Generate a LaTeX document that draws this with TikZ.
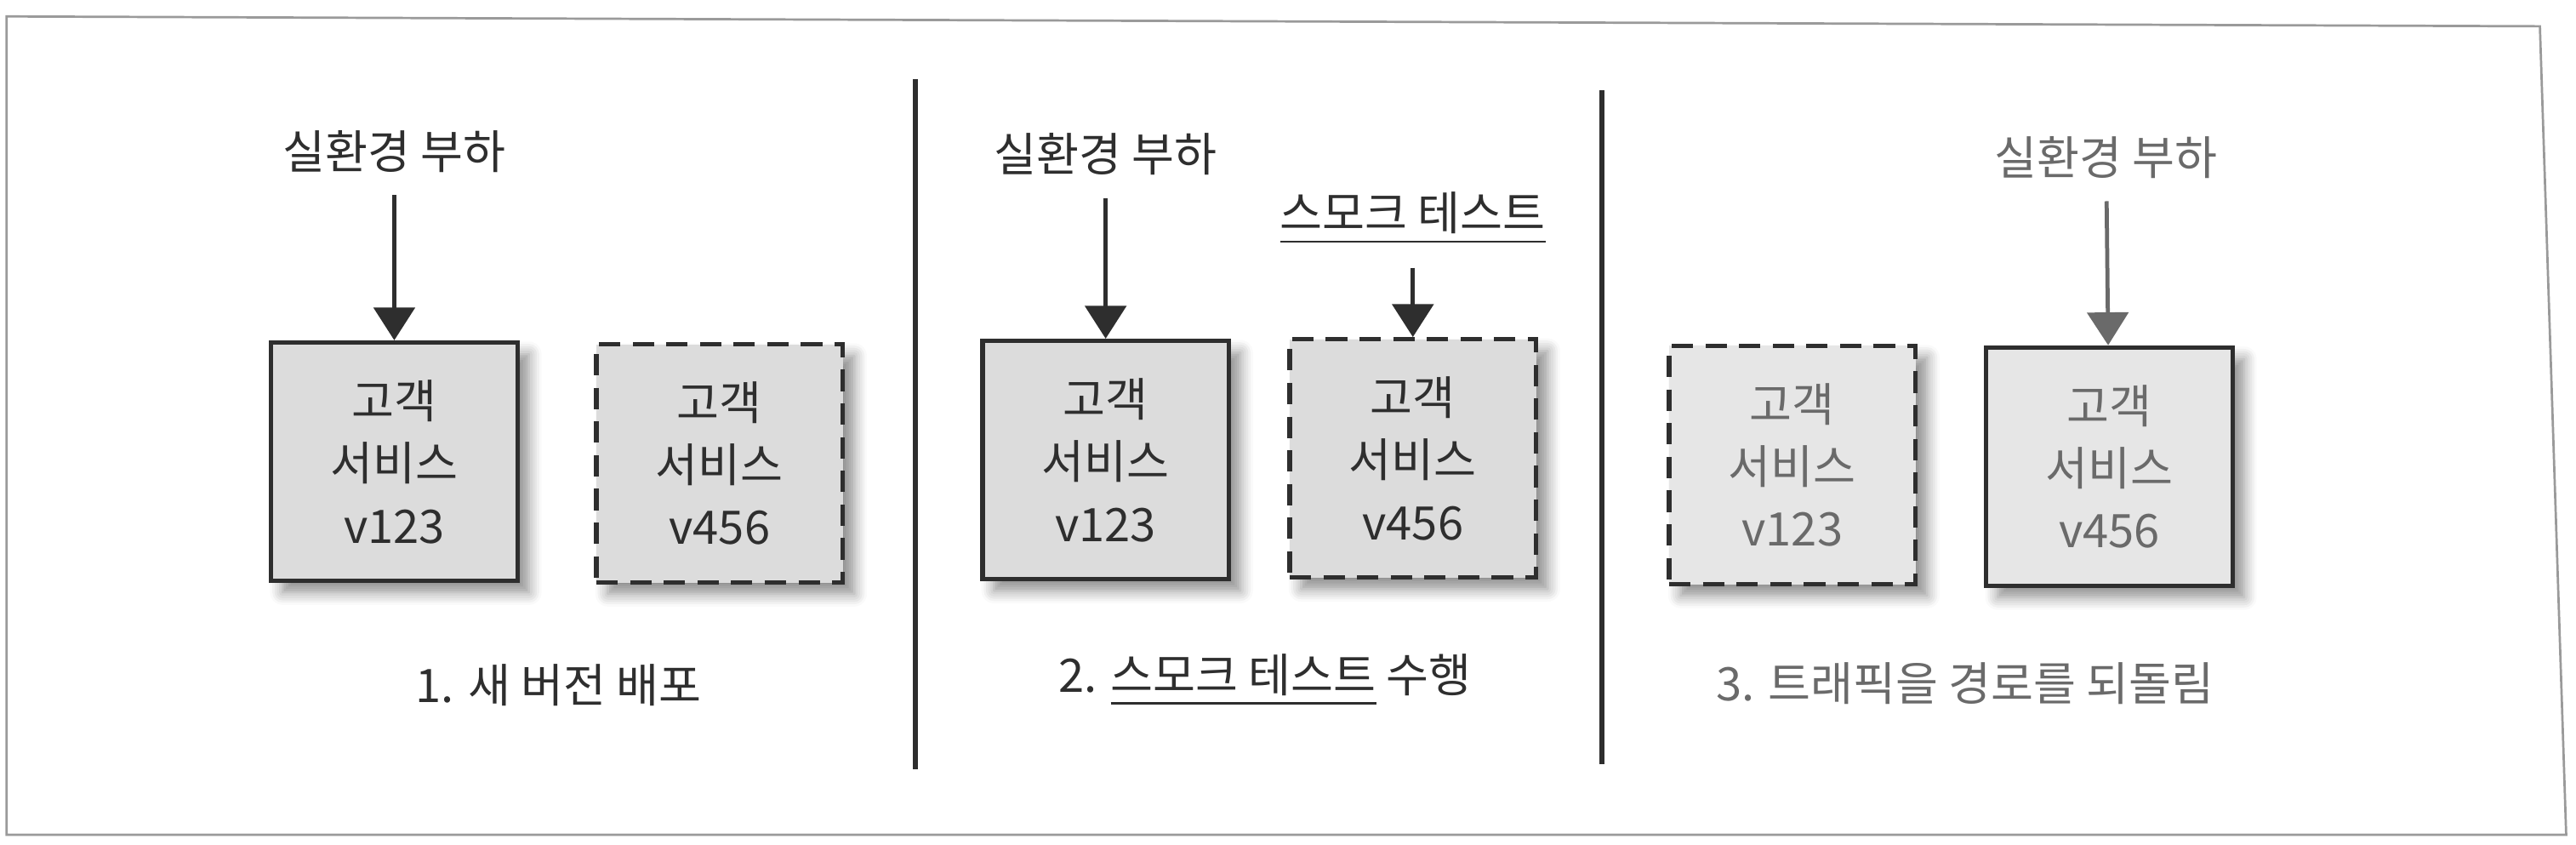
\documentclass[tikz,border=0pt]{standalone}
\usepackage{fontspec}
\setmainfont{Noto Sans CJK KR}
\usetikzlibrary{arrows.meta,shadows.blur}
\definecolor{ink}{HTML}{2E2E2E}
\definecolor{fadeink}{HTML}{6A6A6A}
\definecolor{boxgray}{HTML}{DCDCDC}
\definecolor{boxlight}{HTML}{E6E6E6}
\definecolor{framegray}{HTML}{9A9A9A}

\begin{document}
\begin{tikzpicture}[ every node/.style={font={\fontsize{8}{10.8}\selectfont},text=ink},
    svc/.style={draw=ink,line width=0.8pt,fill=boxgray,
        minimum width=1.5cm,minimum height=1.45cm,align=center,inner sep=0pt,
        blur shadow={shadow xshift=0.7mm,shadow yshift=-0.7mm,
                     shadow blur steps=6,shadow opacity=45}},
    svcnew/.style={svc,dash pattern=on 1.3mm off 0.75mm},
    load/.style={inner sep=1.3mm},
    faded/.style={text=fadeink},
    feed/.style={->,>={Triangle[width=2.5mm,length=2mm]},line width=0.7pt,draw=ink}]
\useasboundingbox (0,0) rectangle (15.68,5.14);
\draw[framegray,line width=0.4pt](0.04,5.04)--(15.46,4.98)--(15.62,0.06)--(0.04,0.06)--cycle;

% panel 1
\node[load] (load1) at (2.40,4.22) {실환경 부하};
\node[svc] (v123a) at (2.40,2.33) {고객\\서비스\\v123};
\node[svcnew] (v456a) at (4.38,2.32) {고객\\서비스\\v456};
\draw[feed] (load1) -- (v123a);
\node (step1) at (3.40,0.97) {1. 새 버전 배포};

\draw[ink,line width=0.9pt](5.57,4.66)--(5.57,0.46);

% panel 2
\node[load] (load2) at (6.73,4.20) {실환경 부하};
\node[load] (smoke) at (8.60,3.81) {\underline{스모크 테스트}};
\node[svc] (v123b) at (6.73,2.34) {고객\\서비스\\v123};
\node[svcnew] (v456b) at (8.60,2.35) {고객\\서비스\\v456};
\draw[feed] (load2) -- (v123b);
\draw[feed] (smoke) -- (v456b);
\node (step2) at (7.70,1.00) {2. \underline{스모크 테스트} 수행};

\draw[ink,line width=0.9pt](9.75,4.59)--(9.75,0.49);

% panel 3
\node[load,faded] (load3) at (12.82,4.18) {실환경 부하};
\node[svcnew,fill=boxlight,faded] (v123c) at (10.91,2.31) {고객\\서비스\\v123};
\node[svc,fill=boxlight,faded] (v456c) at (12.84,2.30) {고객\\서비스\\v456};
\draw[feed,draw=fadeink] (load3) -- (v456c);
\node[faded] (step3) at (11.96,0.98) {3. 트래픽을 경로를 되돌림};
\end{tikzpicture}
\end{document}
